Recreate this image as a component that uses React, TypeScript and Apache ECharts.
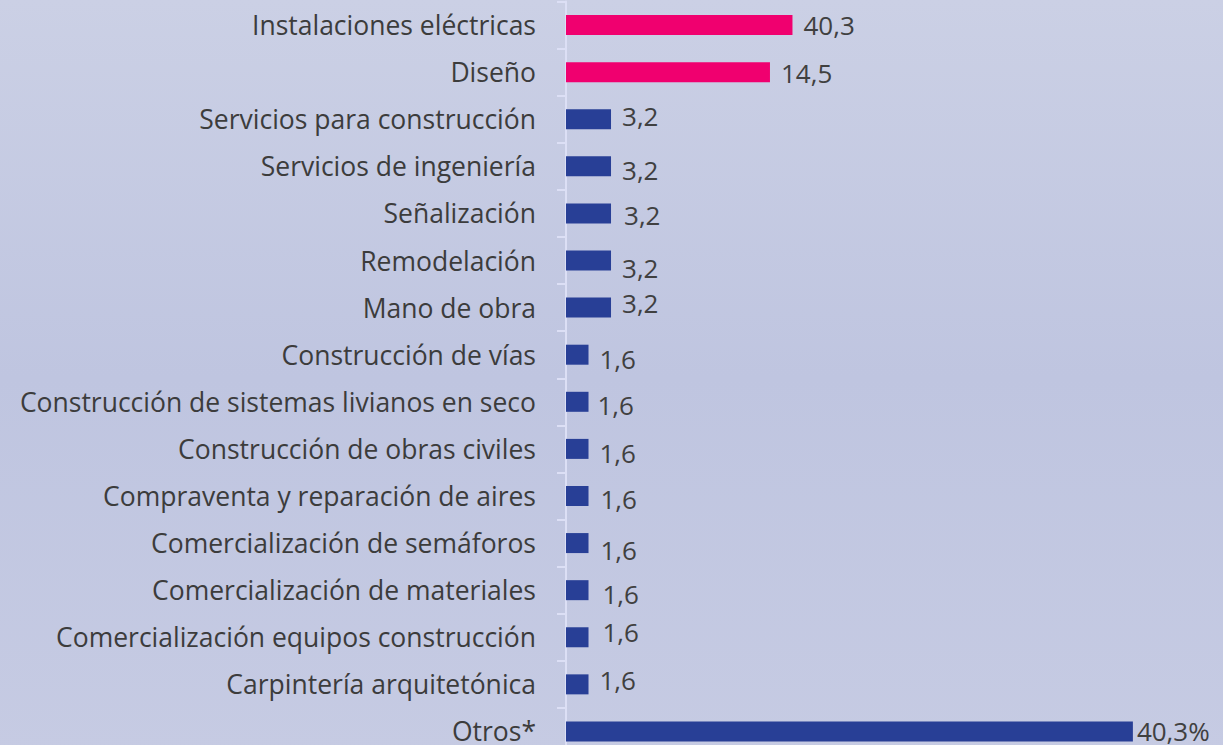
import React, { useEffect, useRef } from "react";
import * as echarts from "echarts";

const categories = [
  "Instalaciones eléctricas",
  "Diseño",
  "Servicios para construcción",
  "Servicios de ingeniería",
  "Señalización",
  "Remodelación",
  "Mano de obra",
  "Construcción de vías",
  "Construcción de sistemas livianos en seco",
  "Construcción de obras civiles",
  "Compraventa y reparación de aires",
  "Comercialización de semáforos",
  "Comercialización de materiales",
  "Comercialización equipos construcción",
  "Carpintería arquitetónica",
  "Otros*",
];

// bar lengths as drawn
const barValues = [16.1, 14.5, 3.2, 3.2, 3.2, 3.2, 3.2, 1.6, 1.6, 1.6, 1.6, 1.6, 1.6, 1.6, 1.6, 40.3];
// value labels as printed
const valueLabels = ["40,3", "14,5", "3,2", "3,2", "3,2", "3,2", "3,2", "1,6", "1,6", "1,6", "1,6", "1,6", "1,6", "1,6", "1,6", "40,3%"];
const highlighted = [true, true, false, false, false, false, false, false, false, false, false, false, false, false, false, false];

// small label nudges seen in the picture [dx, dy]
const labelNudges: [number, number][] = [
  [0, 0], [0, 1], [0, -3], [0, 4], [2, 2], [0, 7], [0, -5], [0, 4],
  [-2, 3], [0, 4], [1, 3], [1, 7], [3, 4], [3, -5], [0, -4], [-4, 0],
];

const PINK = "#F0006F";
const BLUE = "#283F96";

export default function App() {
  const ref = useRef<HTMLDivElement>(null);
  useEffect(() => {
    if (!ref.current) return;
    const chart = echarts.init(ref.current, undefined, { renderer: "svg" });
    const data = barValues.map((v, i) => ({
      value: v,
      itemStyle: { color: highlighted[i] ? PINK : BLUE },
      label: {
        formatter: valueLabels[i],
        offset: labelNudges[i],
        distance: i === barValues.length - 1 ? 8 : 11,
      },
    }));
    chart.setOption({
      animation: false,
      backgroundColor: {
        type: "linear",
        x: 0, y: 0, x2: 0, y2: 1,
        colorStops: [
          { offset: 0, color: "#CBD0E5" },
          { offset: 0.5, color: "#BFC5E0" },
          { offset: 1, color: "#C6CBE3" },
        ],
      },
      grid: { left: 566, right: 24, top: 1.5, bottom: 0, containLabel: false },
      xAxis: {
        type: "value",
        min: 0,
        max: 45,
        show: false,
      },
      yAxis: {
        type: "category",
        inverse: true,
        data: categories,
        axisLine: { show: true, lineStyle: { color: "#DCDFF5", width: 2 } },
        axisTick: { show: true, length: 9, lineStyle: { color: "#DCDFF5", width: 2 } },
        axisLabel: {
          margin: 30,
          fontSize: 26.5,
          color: "#3C3C3C",
          fontFamily: "Open Sans",
        },
      },
      series: [
        {
          type: "bar",
          data,
          barWidth: 20,
          label: {
            show: true,
            position: "right",
            fontSize: 26,
            color: "#404040",
            fontFamily: "Open Sans",
          },
        },
      ],
    });
    return () => chart.dispose();
  }, []);
  return (
    <div
      ref={ref}
      style={{ position: "fixed", left: 0, top: 0, width: 1223, height: 755 }}
    />
  );
}
